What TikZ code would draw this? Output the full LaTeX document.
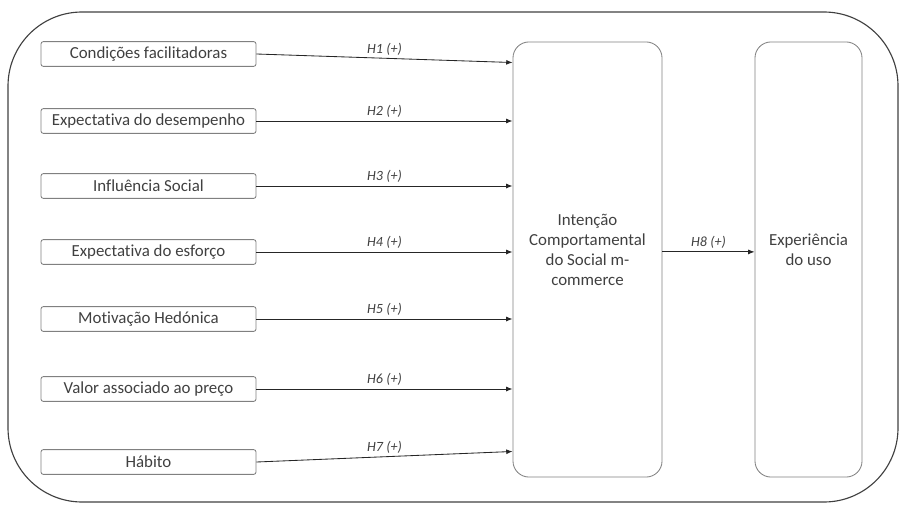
\documentclass[tikz,border=0pt]{standalone}
\usepackage{fontspec}
\setmainfont{Carlito}[RawFeature={-liga;-clig;-dlig;-calt}]
\usetikzlibrary{arrows.meta,calc}
\definecolor{TextClr}{HTML}{404040}
\definecolor{BoxClr}{HTML}{808080}
\definecolor{LineClr}{HTML}{262626}

\tikzset{
  fator/.style={draw=BoxClr, line width=0.6pt, rounded corners=0.06cm,
    minimum width=5.375cm, minimum height=0.62cm, inner sep=0pt,
    text=TextClr, font=\fontsize{12}{14}\selectfont},
  construto/.style={draw=BoxClr, line width=0.6pt, rounded corners=0.4cm,
    minimum height=10.875cm, inner sep=0pt},
  rotulo/.style={align=center, text=TextClr, font=\fontsize{12}{14.2}\selectfont},
  seta/.style={draw=LineClr, line width=0.6pt, -{Latex[length=4.5pt,width=3.5pt]}},
  hipotese/.style={above, inner sep=2pt, text=TextClr,
    font=\fontsize{10}{12}\selectfont\itshape}
}

\begin{document}
\begin{tikzpicture}[x=0.025cm,y=-0.025cm]
\useasboundingbox (0,0) rectangle (900,512);

% moldura
\draw[draw=TextClr, line width=0.8pt, rounded corners=1.85cm] (8,12) rectangle (898,502);

% construtos
\node[fator] (cf) at (148.5,54) {Condições facilitadoras};
\node[fator] (ed) at (148.5,121) {Expectativa do desempenho};
\node[fator] (is) at (148.5,186) {Influência Social};
\node[fator] (ee) at (148.5,252) {Expectativa do esforço};
\node[fator] (mh) at (148.5,319) {Motivação Hedónica};
\node[fator] (vp) at (148.5,389) {Valor associado ao preço};
\node[fator] (hb) at (148.5,462) {Hábito};

\node[construto, minimum width=3.725cm,
  label={[rotulo, yshift=0.24cm]center:Intenção\\Comportamental\\do Social m-\\commerce}]
  (ic) at (587.5,259.5) {};
\node[construto, minimum width=2.675cm,
  label={[rotulo, yshift=0.24cm]center:Experiência\\do uso}]
  (eu) at (808.5,259.5) {};

% hipoteses
\draw[seta] (cf.east) -- ($(ic.north west)+(0,21)$) node[hipotese, midway] {H1 (+)};
\draw[seta] (ed.east) -- (ed.east -| ic.west) node[hipotese, midway] {H2 (+)};
\draw[seta] (is.east) -- (is.east -| ic.west) node[hipotese, midway] {H3 (+)};
\draw[seta] (ee.east) -- (ee.east -| ic.west) node[hipotese, midway] {H4 (+)};
\draw[seta] (mh.east) -- (mh.east -| ic.west) node[hipotese, midway] {H5 (+)};
\draw[seta] (vp.east) -- (vp.east -| ic.west) node[hipotese, midway] {H6 (+)};
\draw[seta] (hb.east) -- ($(ic.south west)+(0,-26)$) node[hipotese, midway] {H7 (+)};

\draw[seta] ([yshift=0.19cm]ic.east) -- ([yshift=0.19cm]eu.west) node[hipotese, midway] {H8 (+)};

\end{tikzpicture}
\end{document}
